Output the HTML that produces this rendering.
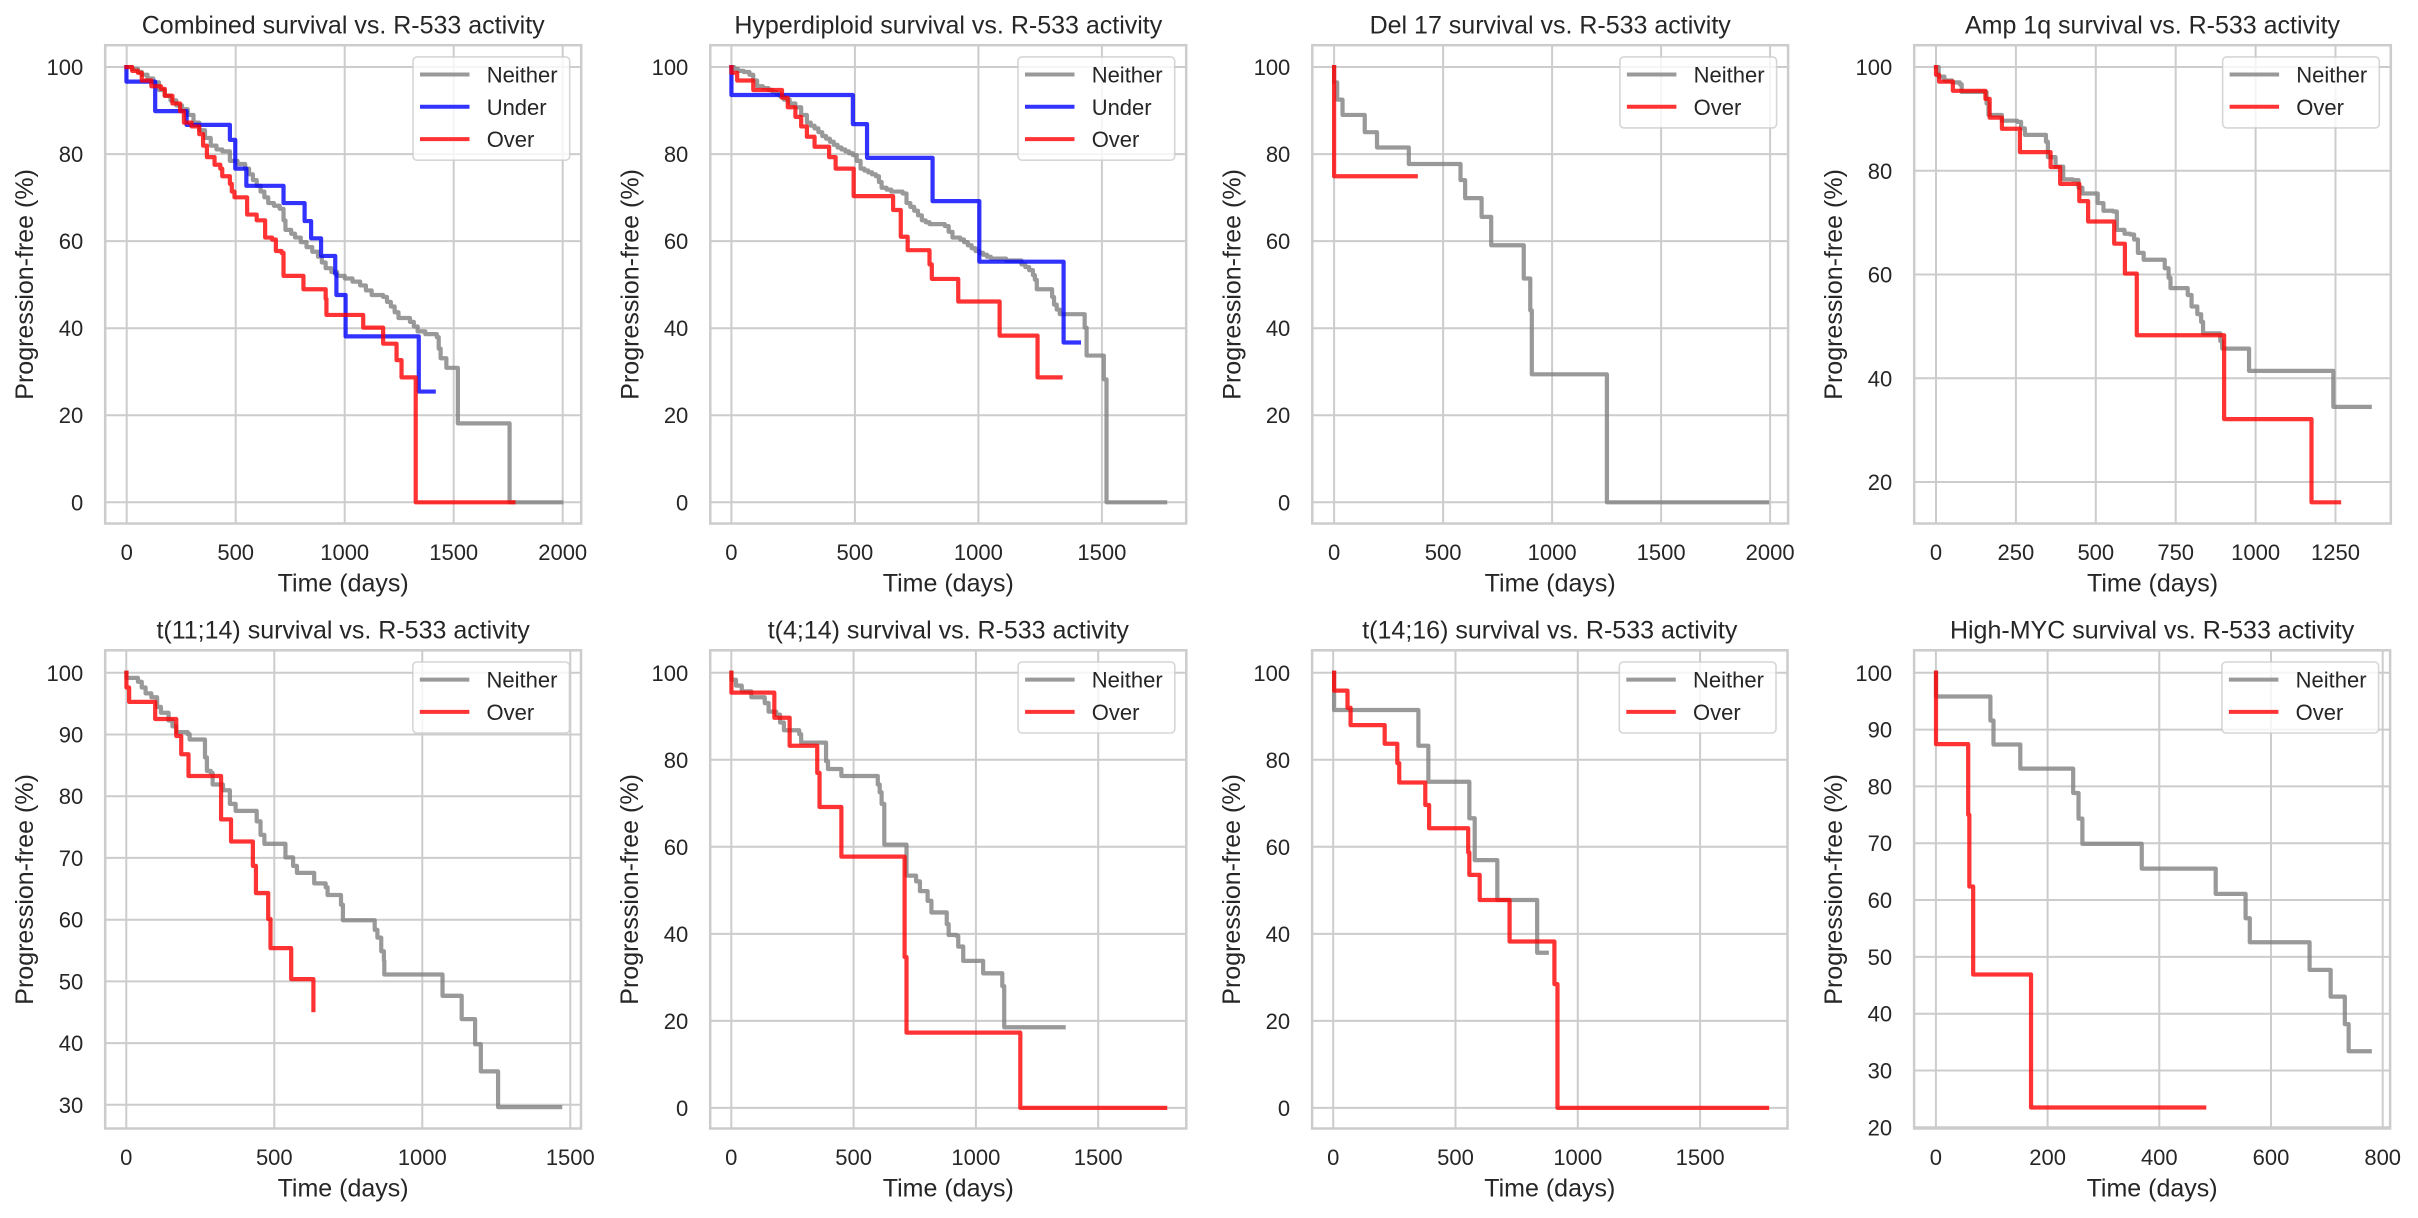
<!DOCTYPE html>
<html>
<head>
<meta charset="utf-8">
<style>
html,body{margin:0;padding:0;background:#fff;}
svg{display:block;}
text{font-family:"Liberation Sans",Arial,sans-serif;fill:#262626;}
.yt{font-size:22px;text-anchor:end;}
.xt{font-size:22px;text-anchor:middle;}
.ti{font-size:25px;text-anchor:middle;}
.lb{font-size:25px;text-anchor:middle;}
.lg{font-size:22px;}
.grid{stroke:#cccccc;stroke-width:2;fill:none;}
.sp{stroke:#cccccc;stroke-width:2.5;fill:none;}
.c{fill:none;stroke-width:11;stroke-linejoin:round;stroke-linecap:square;}
.g{stroke:#808080;stroke-opacity:0.8;}
.b{stroke:#0000ff;stroke-opacity:0.8;}
.r{stroke:#ff0000;stroke-opacity:0.8;}
.lbox{fill:#fff;fill-opacity:0.8;stroke:#cccccc;stroke-opacity:0.8;stroke-width:1.6;}
.h{stroke-width:4;fill:none;stroke-linecap:square;}
</style>
</head>
<body>
<svg width="2418" height="1218" viewBox="0 0 2418 1218" xmlns="http://www.w3.org/2000/svg">
<rect x="0" y="0" width="2418" height="1218" fill="#fff"/>

<!-- ================= PLOT 1 ================= -->
<path class="grid" d="M126.7 45.2V523.5M235.7 45.2V523.5M344.7 45.2V523.5M453.7 45.2V523.5M562.7 45.2V523.5M105.2 67H581.2M105.2 154.1H581.2M105.2 241.1H581.2M105.2 328.2H581.2M105.2 415.2H581.2M105.2 502.3H581.2"/>
<g transform="translate(0,0) scale(0.383142)">
<path class="c g" d="M330 175 H345 V180 H360 V188 H370 V195 H385 V205 H400 V215 H415 V235 H430 V250 H445 V262 H460 V275 H475 V285 H490 V300 H505 V320 H520 V340 H535 V360 H550 V380 H565 V390 H580 V395 H600 V420 H620 V428 H640 V440 H650 V455 H660 V470 H670 V485 H680 V500 H690 V515 H700 V530 H715 V537 H730 V545 H740 V575 H745 V600 H760 V610 H770 V620 H785 V632 H800 V645 H815 V657 H830 V670 H840 V685 H850 V700 H865 V710 H880 V720 H900 V727 H920 V735 H940 V745 H955 V758 H970 V770 H1000 V775 H1010 V788 H1020 V800 H1030 V815 H1040 V830 H1070 V840 H1080 V852 H1090 V865 H1110 V872 H1140 V880 H1145 V910 H1150 V935 H1165 V960 H1185 V960 H1195 V1000 V1105 H1330 V1311 H1465"/>
<path class="c b" d="M330 175 V213 H405 V290 H487 V326 H600 V365 H614 V440 H643 V485 H740 V530 H795 V577 H812 V622 H838 V668 H875 V715 H878 V770 H902 V878 H1093 V1022 H1132"/>
<path class="c r" d="M330 175 H345 V185 H360 V190 H370 V210 H395 V225 H420 V232 H430 V250 H450 V270 H470 V290 H480 V320 H500 V330 H520 V350 H530 V380 H540 V410 H560 V430 H575 V440 H580 V460 H600 V480 H605 V500 H612 V515 H645 V560 H670 V575 H692 V620 H710 V625 H720 V655 H735 V660 H740 V720 H792 V755 H850 V780 H852 V822 H948 V855 H1000 V897 H1035 V940 H1048 V985 H1085 V1311 H1340"/>
</g>
<rect class="sp" x="105.2" y="45.2" width="476" height="478.3"/>
<text class="yt" x="83.2" y="75">100</text><text class="yt" x="83.2" y="162.1">80</text><text class="yt" x="83.2" y="249.1">60</text><text class="yt" x="83.2" y="336.2">40</text><text class="yt" x="83.2" y="423.2">20</text><text class="yt" x="83.2" y="510.3">0</text>
<text class="xt" x="126.7" y="560">0</text><text class="xt" x="235.7" y="560">500</text><text class="xt" x="344.7" y="560">1000</text><text class="xt" x="453.7" y="560">1500</text><text class="xt" x="562.7" y="560">2000</text>
<text class="ti" x="343.2" y="33.5">Combined survival vs. R-533 activity</text>
<text class="lb" x="343.2" y="591.5">Time (days)</text>
<text class="lb" transform="translate(33.2,284.4) rotate(-90)">Progression-free (%)</text>
<rect class="lbox" x="413" y="56.9" width="156.7" height="103.3" rx="4"/>
<line class="h" x1="422" y1="74.5" x2="467.5" y2="74.5" stroke="#999999"/>
<line class="h" x1="422" y1="106.8" x2="467.5" y2="106.8" stroke="#3333ff"/>
<line class="h" x1="422" y1="139.1" x2="467.5" y2="139.1" stroke="#ff3333"/>
<text class="lg" x="486.7" y="82.5">Neither</text><text class="lg" x="486.7" y="114.8">Under</text><text class="lg" x="486.7" y="147.1">Over</text>

<!-- ================= PLOT 2 ================= -->
<path class="grid" d="M731.4 45.2V523.5M854.9 45.2V523.5M978.4 45.2V523.5M1101.9 45.2V523.5M710.3 67H1186.2M710.3 154.1H1186.2M710.3 241.1H1186.2M710.3 328.2H1186.2M710.3 415.2H1186.2M710.3 502.3H1186.2"/>
<g transform="translate(600,0) scale(0.383142)">
<path class="c g" d="M343 175 H350 V180 H360 V185 H375 V188 H390 V195 H400 V210 H410 V225 H425 V230 H440 V235 H450 V240 H460 V245 H470 V252 H480 V260 H495 V270 H510 V280 H525 V300 H540 V320 H550 V328 H560 V335 H570 V345 H580 V355 H590 V362 H600 V370 H610 V378 H620 V385 H630 V390 H640 V395 H650 V400 H660 V405 H670 V420 H680 V440 H690 V445 H700 V450 H710 V455 H720 V460 H728 V475 H735 V490 H748 V495 H760 V500 H790 V505 H800 V530 H810 V540 H820 V550 H830 V562 H840 V575 H850 V580 H860 V585 H900 V590 H910 V605 H920 V620 H940 V625 H950 V632 H960 V640 H970 V648 H980 V655 H990 V660 H1000 V665 H1010 V670 H1020 V675 H1060 V680 H1100 V690 H1110 V697 H1120 V705 H1130 V718 H1135 V730 H1140 V755 H1180 V775 H1185 V795 H1192 V808 H1200 V820 H1265 V855 H1270 V928 H1315 V990 H1322 V1311 H1475"/>
<path class="c b" d="M343 175 V248 H660 V324 H697 V412 H868 V525 H990 V683 H1210 V894 H1250"/>
<path class="c r" d="M343 175 V190 H358 V210 H400 V235 H475 V255 H490 V280 H510 V305 H525 V330 H540 V357 H560 V383 H598 V410 H615 V440 H662 V512 H765 V548 H785 V618 H803 V653 H860 V690 H866 V728 H935 V787 H1043 V876 H1142 V985 H1202"/>
</g>
<rect class="sp" x="710.3" y="45.2" width="475.9" height="478.3"/>
<text class="yt" x="688.3" y="75">100</text><text class="yt" x="688.3" y="162.1">80</text><text class="yt" x="688.3" y="249.1">60</text><text class="yt" x="688.3" y="336.2">40</text><text class="yt" x="688.3" y="423.2">20</text><text class="yt" x="688.3" y="510.3">0</text>
<text class="xt" x="731.4" y="560">0</text><text class="xt" x="854.9" y="560">500</text><text class="xt" x="978.4" y="560">1000</text><text class="xt" x="1101.9" y="560">1500</text>
<text class="ti" x="948.3" y="33.5">Hyperdiploid survival vs. R-533 activity</text>
<text class="lb" x="948.3" y="591.5">Time (days)</text>
<text class="lb" transform="translate(638.3,284.4) rotate(-90)">Progression-free (%)</text>
<rect class="lbox" x="1018" y="56.9" width="156.7" height="103.3" rx="4"/>
<line class="h" x1="1027" y1="74.5" x2="1072.5" y2="74.5" stroke="#999999"/>
<line class="h" x1="1027" y1="106.8" x2="1072.5" y2="106.8" stroke="#3333ff"/>
<line class="h" x1="1027" y1="139.1" x2="1072.5" y2="139.1" stroke="#ff3333"/>
<text class="lg" x="1091.7" y="82.5">Neither</text><text class="lg" x="1091.7" y="114.8">Under</text><text class="lg" x="1091.7" y="147.1">Over</text>

<!-- ================= PLOT 3 ================= -->
<path class="grid" d="M1334.1 45.2V523.5M1443.1 45.2V523.5M1552.1 45.2V523.5M1661.1 45.2V523.5M1770.1 45.2V523.5M1312.3 67H1788.1M1312.3 154.1H1788.1M1312.3 241.1H1788.1M1312.3 328.2H1788.1M1312.3 415.2H1788.1M1312.3 502.3H1788.1"/>
<g transform="translate(1200,0) scale(0.383142)">
<path class="c g" d="M350 175 V215 H358 V260 H372 V300 H430 V345 H462 V385 H545 V428 H680 V470 H692 V517 H735 V566 H760 V640 H845 V727 H862 V810 H866 V977 H1062 V1311 H1480"/>
<path class="c r" d="M350 175 V460 H563"/>
</g>
<rect class="sp" x="1312.3" y="45.2" width="475.8" height="478.3"/>
<text class="yt" x="1290.3" y="75">100</text><text class="yt" x="1290.3" y="162.1">80</text><text class="yt" x="1290.3" y="249.1">60</text><text class="yt" x="1290.3" y="336.2">40</text><text class="yt" x="1290.3" y="423.2">20</text><text class="yt" x="1290.3" y="510.3">0</text>
<text class="xt" x="1334.1" y="560">0</text><text class="xt" x="1443.1" y="560">500</text><text class="xt" x="1552.1" y="560">1000</text><text class="xt" x="1661.1" y="560">1500</text><text class="xt" x="1770.1" y="560">2000</text>
<text class="ti" x="1550.2" y="33.5">Del 17 survival vs. R-533 activity</text>
<text class="lb" x="1550.2" y="591.5">Time (days)</text>
<text class="lb" transform="translate(1240.3,284.4) rotate(-90)">Progression-free (%)</text>
<rect class="lbox" x="1619.9" y="56.9" width="156.7" height="71" rx="4"/>
<line class="h" x1="1628.9" y1="74.5" x2="1674.4" y2="74.5" stroke="#999999"/>
<line class="h" x1="1628.9" y1="106.8" x2="1674.4" y2="106.8" stroke="#ff3333"/>
<text class="lg" x="1693.6" y="82.5">Neither</text><text class="lg" x="1693.6" y="114.8">Over</text>

<!-- ================= PLOT 4 ================= -->
<path class="grid" d="M1936 45.2V523.5M2015.9 45.2V523.5M2095.8 45.2V523.5M2175.7 45.2V523.5M2255.6 45.2V523.5M2335.5 45.2V523.5M1914.2 67H2390.8M1914.2 170.75H2390.8M1914.2 274.5H2390.8M1914.2 378.25H2390.8M1914.2 482H2390.8"/>
<g transform="translate(1818,0) scale(0.383142)">
<path class="c g" d="M308 175 H315 V200 H330 V210 H350 V215 H370 V220 H375 V240 H440 V270 H445 V300 H480 V315 H520 V318 H530 V335 H540 V352 H595 V370 H600 V410 H620 V435 H640 V468 H665 V470 H680 V490 H690 V505 H730 V530 H745 V550 H770 V552 H780 V600 H800 V610 H815 V612 H825 V625 H835 V660 H850 V678 H905 V700 H915 V725 H920 V752 H965 V770 H975 V800 H990 V820 H1000 V840 H1005 V870 H1050 V890 H1055 V910 H1125 V968 H1345 V1062 H1440"/>
<path class="c r" d="M308 175 V195 H316 V213 H352 V237 H437 V258 H448 V307 H480 V336 H527 V397 H607 V436 H632 V480 H682 V525 H705 V578 H773 V636 H801 V714 H832 V875 H1060 V1094 H1288 V1311 H1360"/>
</g>
<rect class="sp" x="1914.2" y="45.2" width="476.6" height="478.3"/>
<text class="yt" x="1892.2" y="75">100</text><text class="yt" x="1892.2" y="178.75">80</text><text class="yt" x="1892.2" y="282.5">60</text><text class="yt" x="1892.2" y="386.25">40</text><text class="yt" x="1892.2" y="490">20</text>
<text class="xt" x="1936" y="560">0</text><text class="xt" x="2015.9" y="560">250</text><text class="xt" x="2095.8" y="560">500</text><text class="xt" x="2175.7" y="560">750</text><text class="xt" x="2255.6" y="560">1000</text><text class="xt" x="2335.5" y="560">1250</text>
<text class="ti" x="2152.5" y="33.5">Amp 1q survival vs. R-533 activity</text>
<text class="lb" x="2152.5" y="591.5">Time (days)</text>
<text class="lb" transform="translate(1842.2,284.4) rotate(-90)">Progression-free (%)</text>
<rect class="lbox" x="2222.6" y="56.9" width="156.7" height="71" rx="4"/>
<line class="h" x1="2231.6" y1="74.5" x2="2277.1" y2="74.5" stroke="#999999"/>
<line class="h" x1="2231.6" y1="106.8" x2="2277.1" y2="106.8" stroke="#ff3333"/>
<text class="lg" x="2296.3" y="82.5">Neither</text><text class="lg" x="2296.3" y="114.8">Over</text>

<!-- ================= PLOT 5 ================= -->
<path class="grid" d="M126.3 650.3V1128.5M274.3 650.3V1128.5M422.3 650.3V1128.5M570.3 650.3V1128.5M105.2 672.8H581M105.2 734.5H581M105.2 796.2H581M105.2 857.9H581M105.2 919.7H581M105.2 981.4H581M105.2 1043.1H581M105.2 1104.8H581"/>
<g transform="translate(0,610) scale(0.383142,0.387747)">
<path class="c g" d="M330 162 V175 H360 V185 H370 V200 H380 V215 H395 V225 H410 V250 H420 V265 H440 V285 H450 V300 H460 V315 H490 V320 H495 V334 H535 V380 H540 V415 H550 V420 H555 V450 H582 V465 H600 V500 H615 V518 H670 V545 H680 V580 H690 V603 H745 V638 H765 V660 H775 V678 H820 V705 H850 V715 H855 V735 H890 V760 H895 V800 H978 V825 H985 V845 H995 V880 H1002 V905 H1003 V940 H1155 V995 H1205 V1055 H1240 V1120 H1255 V1190 H1300 V1282 H1462"/>
<path class="c r" d="M330 162 V200 H337 V237 H405 V281 H460 V325 H473 V372 H492 V428 H577 V540 H603 V597 H660 V660 H668 V730 H700 V797 H706 V872 H760 V952 H818 V1032"/>
</g>
<rect class="sp" x="105.2" y="650.3" width="475.8" height="478.2"/>
<text class="yt" x="83.2" y="680.8">100</text><text class="yt" x="83.2" y="742.5">90</text><text class="yt" x="83.2" y="804.2">80</text><text class="yt" x="83.2" y="865.9">70</text><text class="yt" x="83.2" y="927.7">60</text><text class="yt" x="83.2" y="989.4">50</text><text class="yt" x="83.2" y="1051.1">40</text><text class="yt" x="83.2" y="1112.8">30</text>
<text class="xt" x="126.3" y="1165">0</text><text class="xt" x="274.3" y="1165">500</text><text class="xt" x="422.3" y="1165">1000</text><text class="xt" x="570.3" y="1165">1500</text>
<text class="ti" x="343.1" y="638.6">t(11;14) survival vs. R-533 activity</text>
<text class="lb" x="343.1" y="1196.5">Time (days)</text>
<text class="lb" transform="translate(33.2,889.4) rotate(-90)">Progression-free (%)</text>
<rect class="lbox" x="412.8" y="662" width="156.7" height="71" rx="4"/>
<line class="h" x1="421.8" y1="679.6" x2="467.3" y2="679.6" stroke="#999999"/>
<line class="h" x1="421.8" y1="711.9" x2="467.3" y2="711.9" stroke="#ff3333"/>
<text class="lg" x="486.5" y="687.6">Neither</text><text class="lg" x="486.5" y="719.9">Over</text>

<!-- ================= PLOT 6 ================= -->
<path class="grid" d="M731.3 650.3V1128.5M853.6 650.3V1128.5M975.9 650.3V1128.5M1098.2 650.3V1128.5M710.2 672.8H1186.3M710.2 759.8H1186.3M710.2 846.8H1186.3M710.2 933.9H1186.3M710.2 1020.9H1186.3M710.2 1107.9H1186.3"/>
<g transform="translate(600,610) scale(0.383142,0.387747)">
<path class="c g" d="M343 162 V180 H355 V195 H370 V210 H395 V225 H430 V240 H440 V262 H460 V270 H470 V290 H480 V310 H520 V320 H525 V342 H590 V390 H595 V410 H630 V428 H725 V450 H730 V470 H735 V500 H742 V532 V605 H800 V665 V685 H825 V700 H835 V725 H855 V750 H865 V780 H905 V810 H910 V838 H930 V840 H935 V868 H948 V870 V905 H1000 V937 H1050 V970 H1055 V1076 H1210"/>
<path class="c r" d="M343 162 V213 H455 V278 H495 V350 H567 V420 H573 V508 H630 V636 H795 V895 H800 V1090 H1097 V1284 H1475"/>
</g>
<rect class="sp" x="710.2" y="650.3" width="476.1" height="478.2"/>
<text class="yt" x="688.2" y="680.8">100</text><text class="yt" x="688.2" y="767.8">80</text><text class="yt" x="688.2" y="854.8">60</text><text class="yt" x="688.2" y="941.9">40</text><text class="yt" x="688.2" y="1028.9">20</text><text class="yt" x="688.2" y="1115.9">0</text>
<text class="xt" x="731.3" y="1165">0</text><text class="xt" x="853.6" y="1165">500</text><text class="xt" x="975.9" y="1165">1000</text><text class="xt" x="1098.2" y="1165">1500</text>
<text class="ti" x="948.3" y="638.6">t(4;14) survival vs. R-533 activity</text>
<text class="lb" x="948.3" y="1196.5">Time (days)</text>
<text class="lb" transform="translate(638.2,889.4) rotate(-90)">Progression-free (%)</text>
<rect class="lbox" x="1018.1" y="662" width="156.7" height="71" rx="4"/>
<line class="h" x1="1027.1" y1="679.6" x2="1072.6" y2="679.6" stroke="#999999"/>
<line class="h" x1="1027.1" y1="711.9" x2="1072.6" y2="711.9" stroke="#ff3333"/>
<text class="lg" x="1091.8" y="687.6">Neither</text><text class="lg" x="1091.8" y="719.9">Over</text>

<!-- ================= PLOT 7 ================= -->
<path class="grid" d="M1333.2 650.3V1128.5M1455.5 650.3V1128.5M1577.8 650.3V1128.5M1700.1 650.3V1128.5M1312.1 672.8H1787.5M1312.1 759.8H1787.5M1312.1 846.8H1787.5M1312.1 933.9H1787.5M1312.1 1020.9H1787.5M1312.1 1107.9H1787.5"/>
<g transform="translate(1200,610) scale(0.383142,0.387747)">
<path class="c g" d="M350 162 V258 H570 V350 H596 V443 H703 V537 H717 V645 H776 V748 H880 V884 H905"/>
<path class="c r" d="M350 162 V208 H385 V252 H393 V297 H482 V345 H515 V395 H520 V445 H588 V503 H598 V563 H700 V625 H703 V683 H730 V748 H808 V855 H925 V965 H933 V1284 H1480"/>
</g>
<rect class="sp" x="1312.1" y="650.3" width="475.4" height="478.2"/>
<text class="yt" x="1290.1" y="680.8">100</text><text class="yt" x="1290.1" y="767.8">80</text><text class="yt" x="1290.1" y="854.8">60</text><text class="yt" x="1290.1" y="941.9">40</text><text class="yt" x="1290.1" y="1028.9">20</text><text class="yt" x="1290.1" y="1115.9">0</text>
<text class="xt" x="1333.2" y="1165">0</text><text class="xt" x="1455.5" y="1165">500</text><text class="xt" x="1577.8" y="1165">1000</text><text class="xt" x="1700.1" y="1165">1500</text>
<text class="ti" x="1549.8" y="638.6">t(14;16) survival vs. R-533 activity</text>
<text class="lb" x="1549.8" y="1196.5">Time (days)</text>
<text class="lb" transform="translate(1240.1,889.4) rotate(-90)">Progression-free (%)</text>
<rect class="lbox" x="1619.3" y="662" width="156.7" height="71" rx="4"/>
<line class="h" x1="1628.3" y1="679.6" x2="1673.8" y2="679.6" stroke="#999999"/>
<line class="h" x1="1628.3" y1="711.9" x2="1673.8" y2="711.9" stroke="#ff3333"/>
<text class="lg" x="1693" y="687.6">Neither</text><text class="lg" x="1693" y="719.9">Over</text>

<!-- ================= PLOT 8 ================= -->
<path class="grid" d="M1935.9 650.3V1128.5M2047.6 650.3V1128.5M2159.3 650.3V1128.5M2271 650.3V1128.5M2382.7 650.3V1128.5M1914.1 672.8H2390.1M1914.1 729.6H2390.1M1914.1 786.4H2390.1M1914.1 843.2H2390.1M1914.1 900H2390.1M1914.1 956.9H2390.1M1914.1 1013.7H2390.1M1914.1 1070.5H2390.1M1914.1 1127.3H2390.1"/>
<g transform="translate(1818,610) scale(0.383142,0.387747)">
<path class="c g" d="M308 162 V223 H450 V285 H458 V347 H528 V409 H666 V472 H680 V538 H690 V603 H845 V667 H1038 V732 H1116 V795 H1127 V857 H1283 V928 H1338 V997 H1375 V1068 H1385 V1138 H1440"/>
<path class="c r" d="M308 162 V346 H392 V528 H395 V713 H405 V940 H556 V1283 H1008"/>
</g>
<rect class="sp" x="1914.1" y="650.3" width="476" height="478.2"/>
<text class="yt" x="1892.1" y="680.8">100</text><text class="yt" x="1892.1" y="737.6">90</text><text class="yt" x="1892.1" y="794.4">80</text><text class="yt" x="1892.1" y="851.2">70</text><text class="yt" x="1892.1" y="908">60</text><text class="yt" x="1892.1" y="964.9">50</text><text class="yt" x="1892.1" y="1021.7">40</text><text class="yt" x="1892.1" y="1078.5">30</text><text class="yt" x="1892.1" y="1135.3">20</text>
<text class="xt" x="1935.9" y="1165">0</text><text class="xt" x="2047.6" y="1165">200</text><text class="xt" x="2159.3" y="1165">400</text><text class="xt" x="2271" y="1165">600</text><text class="xt" x="2382.7" y="1165">800</text>
<text class="ti" x="2152.1" y="638.6">High-MYC survival vs. R-533 activity</text>
<text class="lb" x="2152.1" y="1196.5">Time (days)</text>
<text class="lb" transform="translate(1842.1,889.4) rotate(-90)">Progression-free (%)</text>
<rect class="lbox" x="2221.9" y="662" width="156.7" height="71" rx="4"/>
<line class="h" x1="2230.9" y1="679.6" x2="2276.4" y2="679.6" stroke="#999999"/>
<line class="h" x1="2230.9" y1="711.9" x2="2276.4" y2="711.9" stroke="#ff3333"/>
<text class="lg" x="2295.6" y="687.6">Neither</text><text class="lg" x="2295.6" y="719.9">Over</text>

</svg>
</body>
</html>
